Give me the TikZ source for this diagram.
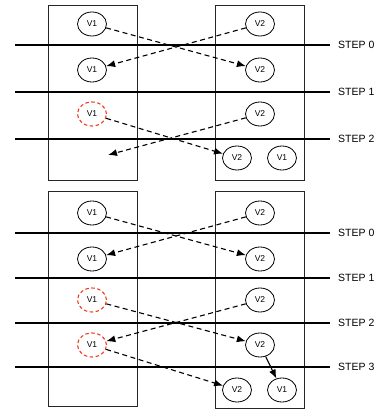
\documentclass[tikz,border=0pt]{standalone}
\usepackage{fontspec}
\setmainfont{Liberation Sans}
\usetikzlibrary{shapes.geometric,arrows.meta}
\definecolor{redd}{HTML}{F03A17}
\tikzset{
  vert/.style={draw, ellipse, minimum width=29pt, minimum height=24pt, inner sep=0pt, font=\fontsize{8.5}{10}\selectfont, line width=0.8pt},
  redvert/.style={vert, draw=redd, dash pattern=on 3.5pt off 2.5pt, line width=1.1pt},
  panel/.style={draw=black!85, line width=0.8pt},
  stepline/.style={line width=2pt},
  steplabel/.style={anchor=west, inner sep=0pt, font=\fontsize{10.5}{12}\selectfont},
  msg/.style={line width=1.1pt, dash pattern=on 5pt off 3.5pt, -{Latex[length=9pt,width=7pt]}},
  local/.style={line width=1.1pt, -{Latex[length=9pt,width=7pt]}}
}
\begin{document}
\begin{tikzpicture}[x=1pt,y=1pt]
\useasboundingbox (0,0) rectangle (383,412);
% ---------- top panel ----------
\draw[panel] (48,232) rectangle (137,407);
\draw[panel] (215,232) rectangle (304,407);
\node[steplabel] (ts0) at (338,367) {STEP 0};
\node[steplabel] (ts1) at (338,320) {STEP 1};
\node[steplabel] (ts2) at (338,273) {STEP 2};
\coordinate (tl0) at (15,367); \coordinate (tr0) at (330,367);
\coordinate (tl1) at (15,320); \coordinate (tr1) at (330,320);
\coordinate (tl2) at (15,273); \coordinate (tr2) at (330,273);
\draw[stepline] (tl0) -- (tr0);
\draw[stepline] (tl1) -- (tr1);
\draw[stepline] (tl2) -- (tr2);
\node[vert] (a1) at (92,388) {V1};
\node[vert] (a2) at (260,388) {V2};
\node[vert] (b1) at (92,342) {V1};
\node[vert] (b2) at (260,342) {V2};
\node[redvert] (c1) at (92,298) {V1};
\node[vert] (c2) at (260,298) {V2};
\node[vert] (d2) at (237,254) {V2};
\node[vert] (d1) at (282,254) {V1};
\coordinate (e) at (108,257);
\draw[msg] (a1) -- (b2);
\draw[msg] (a2) -- (b1);
\draw[msg] (c1) -- (d2);
\draw[msg] (c2) -- (e);
% ---------- bottom panel ----------
\draw[panel] (48,6) rectangle (137,221);
\draw[panel] (215,4) rectangle (304,221);
\node[steplabel] (bs0) at (338,179) {STEP 0};
\node[steplabel] (bs1) at (338,134) {STEP 1};
\node[steplabel] (bs2) at (338,89) {STEP 2};
\node[steplabel] (bs3) at (338,45) {STEP 3};
\coordinate (bl0) at (15,179); \coordinate (br0) at (330,179);
\coordinate (bl1) at (15,134); \coordinate (br1) at (330,134);
\coordinate (bl2) at (15,89); \coordinate (br2) at (330,89);
\coordinate (bl3) at (15,45); \coordinate (br3) at (330,45);
\draw[stepline] (bl0) -- (br0);
\draw[stepline] (bl1) -- (br1);
\draw[stepline] (bl2) -- (br2);
\draw[stepline] (bl3) -- (br3);
\node[vert] (f1) at (92,199) {V1};
\node[vert] (f2) at (260,199) {V2};
\node[vert] (g1) at (92,153) {V1};
\node[vert] (g2) at (260,153) {V2};
\node[redvert] (h1) at (92,112) {V1};
\node[vert] (h2) at (260,112) {V2};
\node[redvert] (i1) at (92,67) {V1};
\node[vert] (i2) at (260,67) {V2};
\node[vert] (j2) at (237,22) {V2};
\node[vert] (j1) at (282,22) {V1};
\draw[msg] (f1) -- (g2);
\draw[msg] (f2) -- (g1);
\draw[msg] (h1) -- (i2);
\draw[msg] (h2) -- (i1);
\draw[msg] (i1) -- (j2);
\draw[local] (i2) -- (j1);
\end{tikzpicture}
\end{document}
